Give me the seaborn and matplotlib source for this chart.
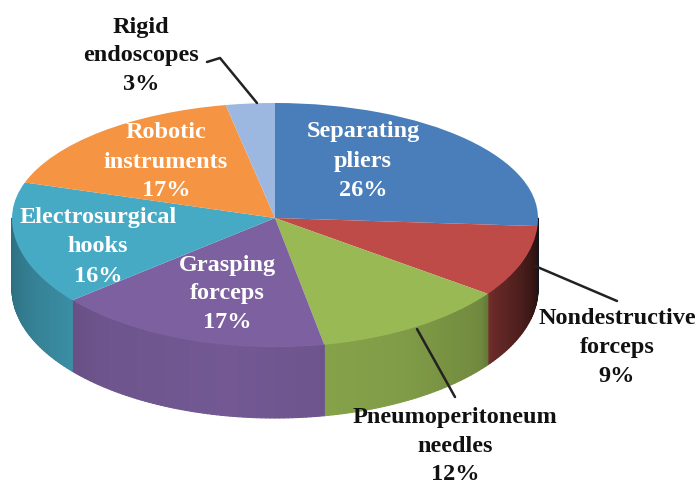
"""
3D-style pie chart: share of instrument types
"""
import numpy as np
import matplotlib
matplotlib.use("Agg")
import matplotlib.pyplot as plt
from matplotlib.collections import PolyCollection
from matplotlib.colors import to_rgb
import seaborn as sns

# ---- data ----
categories = ['Separating\npliers', 'Nondestructive\nforceps', 'Pneumoperitoneum\nneedles',
              'Grasping\nforceps', 'Electrosurgical\nhooks', 'Robotic\ninstruments',
              'Rigid\nendoscopes']
shares = [26, 9, 12, 17, 16, 17, 3]
slice_colors = ['#4A7EBB', '#BE4B48', '#98B954', '#7D60A0', '#46AAC5', '#F59443', '#9DB8E0']

# ---- layout (pixels of the 695x484 canvas) ----
CX, CY = 275, 218          # centre of the top face
RX = 263                   # horizontal radius
RY_BACK, RY_FRONT = 115, 129   # perspective: back half is shorter than front half
DEPTH = 71                 # height of the side wall


def fwd(y):
    y = np.asarray(y, float)
    return np.where(y >= 0, y * RY_BACK, y * RY_FRONT)


def inv(v):
    v = np.asarray(v, float)
    return np.where(v >= 0, v / RY_BACK, v / RY_FRONT)


def to_data(x, y):
    return (x - CX) / RX, float(inv(CY - y))


label_pos = {   # centre of each label block, pixels
    'Separating\npliers': (363, 161, 'white'),
    'Nondestructive\nforceps': (617, 347, '#111111'),
    'Pneumoperitoneum\nneedles': (455, 446, '#111111'),
    'Grasping\nforceps': (227, 294, 'white'),
    'Electrosurgical\nhooks': (98, 247, 'white'),
    'Robotic\ninstruments': (166, 162, 'white'),
    'Rigid\nendoscopes': (141, 56, '#111111'),
}
leaders = [
    [(207, 62), (220, 58), (257, 103)],
    [(535, 266), (617, 301)],
    [(417, 329), (455, 397)],
]

sns.set_style('white')
plt.rcParams['font.family'] = ['Liberation Serif', 'DejaVu Serif']

fig = plt.figure(figsize=(6.95, 4.84), dpi=100)
ax = fig.add_axes([0, 0, 1, 1])

# side wall: thin strips, shaded by angle (light from the front-left)
depth = DEPTH / RY_FRONT
shade_t = [180, 230, 260, 300, 322, 326, 345, 360]
shade_f = [0.64, 0.88, 0.92, 0.84, 0.74, 0.55, 0.33, 0.18]

fracs = np.array(shares) / sum(shares)
ends = 90 - 360 * np.cumsum(fracs)
starts = np.concatenate([[90], ends[:-1]])
for a_start, a_end, col in zip(starts, ends, slice_colors):
    lo, hi = a_end % 360, a_start % 360
    if hi <= lo:
        hi += 360
    polys, cols = [], []
    for seg_lo, seg_hi in [(180, 360), (540, 720)]:
        a, b = max(lo, seg_lo), min(hi, seg_hi)
        if b <= a:
            continue
        t = np.linspace(a, b, max(int(b - a) + 2, 2))
        for t0, t1 in zip(t[:-1], t[1:]):
            r0, r1 = np.radians(t0), np.radians(t1)
            polys.append([(np.cos(r0), np.sin(r0)), (np.cos(r1), np.sin(r1)),
                          (np.cos(r1), np.sin(r1) - depth), (np.cos(r0), np.sin(r0) - depth)])
            tm = ((t0 + t1) / 2) % 360
            f = np.interp(tm if tm >= 180 else 360, shade_t, shade_f)
            cols.append(tuple(np.array(to_rgb(col)) * f))
    if polys:
        ax.add_collection(PolyCollection(polys, facecolors=cols, edgecolors=cols,
                                         linewidths=0.8, zorder=1))

# top face
ax.pie(shares, colors=slice_colors, startangle=90, counterclock=False,
       wedgeprops=dict(linewidth=0), radius=1.0)
for w in ax.patches:
    w.set_zorder(2)

ax.set_aspect('auto')
ax.set_yscale('function', functions=(fwd, inv))
ax.set_xlim(to_data(0, 0)[0], to_data(695, 0)[0])
ax.set_ylim(to_data(0, 484)[1], to_data(0, 0)[1])
ax.axis('off')

# labels
for cat, val in zip(categories, shares):
    x, y, c = label_pos[cat]
    ax.text(*to_data(x, y), f'{cat}\n{val}%', ha='center', va='center', color=c,
            fontsize=17.5, fontweight='bold', linespacing=1.5, zorder=5)

for pts in leaders:
    xs, ys = zip(*[to_data(*p) for p in pts])
    ax.plot(xs, ys, color='#222222', lw=1.8, zorder=4)

fig.savefig('out.png', dpi=100)
